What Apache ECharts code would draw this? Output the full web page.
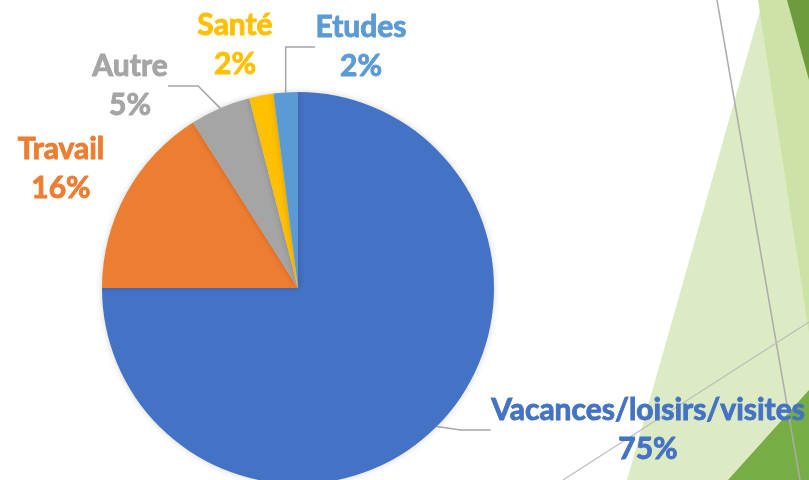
<!DOCTYPE html>
<html>
<head>
<meta charset="utf-8">
<script src="https://cdn.jsdelivr.net/npm/echarts@6/dist/echarts.min.js"></script>
<style>
  html, body { margin: 0; padding: 0; background: #fff; }
  #chart { width: 809px; height: 480px; }
</style>
</head>
<body>
<div id="chart"></div>
<script>
// motifs de déplacement
const categories = ['Vacances/loisirs/visites', 'Travail', 'Autre', 'Santé', 'Etudes']
const shares = [75, 16, 5, 2, 2]
const colors = ['#4472C4', '#ED7D31', '#A5A5A5', '#FFC000', '#5B9BD5']
const showLine = [true, false, true, false, true]

// where each label block sits (centre)
const labelPos = [
  { x: 648, y: 430 },
  { x: 61, y: 169 },
  { x: 130, y: 86 },
  { x: 235, y: 45 },
  { x: 361, y: 47 }
]

const chart = echarts.init(document.getElementById('chart'))

chart.setOption({
  backgroundColor: '#ffffff',
  animation: false,
  graphic: [
    { type: 'polygon', z: 0, shape: { points: [[763, 0], [809, 0], [809, 480], [627, 480]] }, style: { fill: '#DDEBC5' } },
    { type: 'polygon', z: 0, shape: { points: [[758, 0], [809, 0], [809, 333]] }, style: { fill: '#CDE2A6' } },
    { type: 'polygon', z: 0, shape: { points: [[787, 0], [809, 0], [809, 80]] }, style: { fill: '#6C9C3B' } },
    { type: 'polygon', z: 0, shape: { points: [[728, 480], [809, 390], [809, 480]] }, style: { fill: '#77AD45' } },
    { type: 'line', z: 0, shape: { x1: 717, y1: 0, x2: 800, y2: 480 }, style: { stroke: '#ABABAB', lineWidth: 1.5 } },
    { type: 'line', z: 0, shape: { x1: 563, y1: 480, x2: 809, y2: 322 }, style: { stroke: '#BDBDBD', lineWidth: 1.2 } }
  ],
  series: [{
    type: 'pie',
    center: [298, 288],
    radius: 196,
    startAngle: 90,
    clockwise: true,
    avoidLabelOverlap: false,
    itemStyle: {
      borderWidth: 0,
      shadowBlur: 6,
      shadowColor: 'rgba(0,0,0,0.18)'
    },
    label: {
      show: true,
      formatter: '{b}\n{c}%',
      fontFamily: 'Lato',
      fontWeight: 'bold',
      fontSize: 30,
      lineHeight: 39,
      align: 'center',
      textBorderWidth: 0.9
    },
    labelLine: {
      lineStyle: { color: '#A6A6A6', width: 1.5 }
    },
    labelLayout: function (params) {
      const p = labelPos[params.dataIndex]
      return { x: p.x, y: p.y, align: 'center', verticalAlign: 'middle' }
    },
    data: categories.map((name, i) => ({
      name: name,
      value: shares[i],
      itemStyle: { color: colors[i] },
      label: { color: colors[i], textBorderColor: colors[i] },
      labelLine: { show: showLine[i] }
    }))
  }]
})
</script>
</body>
</html>
